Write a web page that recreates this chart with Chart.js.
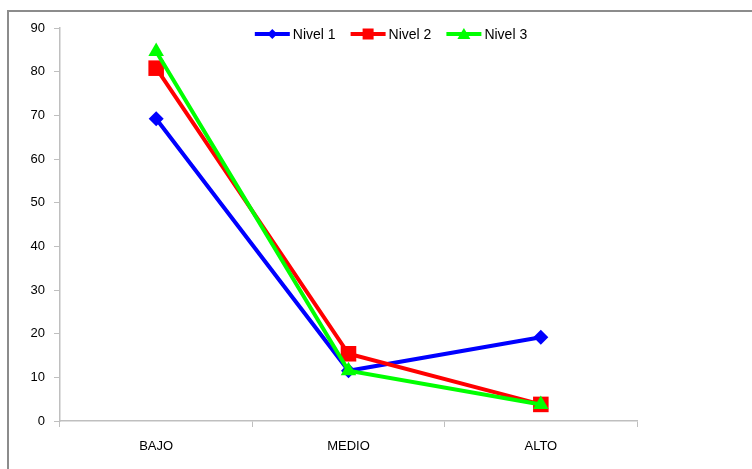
<!DOCTYPE html>
<html>
<head>
<meta charset="utf-8">
<script src="https://cdn.jsdelivr.net/npm/chart.js@4/dist/chart.umd.min.js"></script>
<style>
  html, body { margin: 0; padding: 0; background: #fff; overflow: hidden; }
  #wrap { position: relative; width: 752px; height: 469px; }
  #frame { position: absolute; left: 7px; top: 10px; width: 800px; height: 500px;
           border-left: 2px solid #8c8c8c; border-top: 2px solid #8c8c8c; box-sizing: border-box; }
  canvas { position: absolute; left: 0; top: 0; }
</style>
</head>
<body>
<div id="wrap">
  <div id="frame"></div>
  <canvas id="c" width="752" height="469"></canvas>
</div>
<script>
const categories = ["BAJO", "MEDIO", "ALTO"];
const seriesNames = ["Nivel 1", "Nivel 2", "Nivel 3"];
const nivel1 = [69.2, 11.5, 19.2];
const nivel2 = [80.8, 15.4, 3.8];
const nivel3 = [84.6, 11.5, 3.8];
const yTicks = [0, 10, 20, 30, 40, 50, 60, 70, 80, 90];

const colors = ["#0000ff", "#ff0000", "#00ff00"];
const styles = ["rectRot", "rect", "triangle"];
const radii = [7.5, 11, 9];
const FONT = 'Liberation Sans';

const values = [nivel1, nivel2, nivel3];
const datasets = seriesNames.map((name, i) => ({
  label: name,
  data: values[i],
  borderColor: colors[i],
  backgroundColor: colors[i],
  borderWidth: 4,
  pointStyle: styles[i],
  pointRadius: radii[i],
  pointBorderWidth: 0,
  pointBackgroundColor: colors[i],
  pointBorderColor: colors[i],
  tension: 0,
  order: 2 - i
}));

// Legend drawn inside the plot area, top-centred (like the Excel original)
const topLegend = {
  id: 'topLegend',
  afterDatasetsDraw(chart) {
    const ctx = chart.ctx;
    ctx.save();
    ctx.font = '14px "' + FONT + '"';
    const lineW = 35, gapText = 3, gapItem = 15;
    const items = chart.data.datasets.map((d, i) => ({ d, i, w: ctx.measureText(d.label).width }));
    const total = items.reduce((s, it) => s + lineW + gapText + it.w, 0) + gapItem * (items.length - 1);
    let x = 391 - total / 2;
    const y = chart.chartArea.top + 6;
    items.forEach(({ d, i, w }) => {
      ctx.strokeStyle = d.borderColor; ctx.fillStyle = d.borderColor; ctx.lineWidth = 4;
      ctx.beginPath(); ctx.moveTo(x, y); ctx.lineTo(x + lineW, y); ctx.stroke();
      const cx = x + lineW / 2;
      ctx.beginPath();
      if (styles[i] === 'rectRot') { ctx.moveTo(cx, y - 5); ctx.lineTo(cx + 5, y); ctx.lineTo(cx, y + 5); ctx.lineTo(cx - 5, y); }
      else if (styles[i] === 'rect') { ctx.rect(cx - 5.5, y - 5.5, 11, 11); }
      else { ctx.moveTo(cx, y - 6); ctx.lineTo(cx + 6.5, y + 5); ctx.lineTo(cx - 6.5, y + 5); }
      ctx.closePath(); ctx.fill();
      ctx.fillStyle = '#000'; ctx.textBaseline = 'middle'; ctx.textAlign = 'left';
      ctx.fillText(d.label, x + lineW + gapText, y + 1);
      x += lineW + gapText + w + gapItem;
    });
    ctx.restore();
  }
};

new Chart(document.getElementById('c'), {
  type: 'line',
  data: { labels: categories, datasets: datasets },
  plugins: [topLegend],
  options: {
    responsive: false,
    animation: false,
    devicePixelRatio: 1,
    layout: { padding: { left: 0, right: 115, top: 28, bottom: 0 } },
    plugins: {
      tooltip: { enabled: false },
      legend: { display: false }
    },
    scales: {
      x: {
        offset: true,
        grid: { drawOnChartArea: false, drawTicks: true, tickLength: 6, color: '#bfbfbf', offset: true },
        border: { color: '#bfbfbf', width: 1.5 },
        ticks: { color: '#000', padding: 12, font: { family: FONT, size: 13 } },
        afterFit: (s) => { s.height = 48; }
      },
      y: {
        min: 0, max: 90,
        afterBuildTicks: (s) => { s.ticks = yTicks.map(v => ({ value: v })); },
        grid: { drawOnChartArea: false, drawTicks: true, tickLength: 6, color: '#bfbfbf' },
        border: { color: '#bfbfbf', width: 1.5 },
        ticks: { color: '#000', padding: 9, font: { family: FONT, size: 13 } },
        afterFit: (s) => { s.width = 60; }
      }
    }
  }
});
</script>
</body>
</html>
